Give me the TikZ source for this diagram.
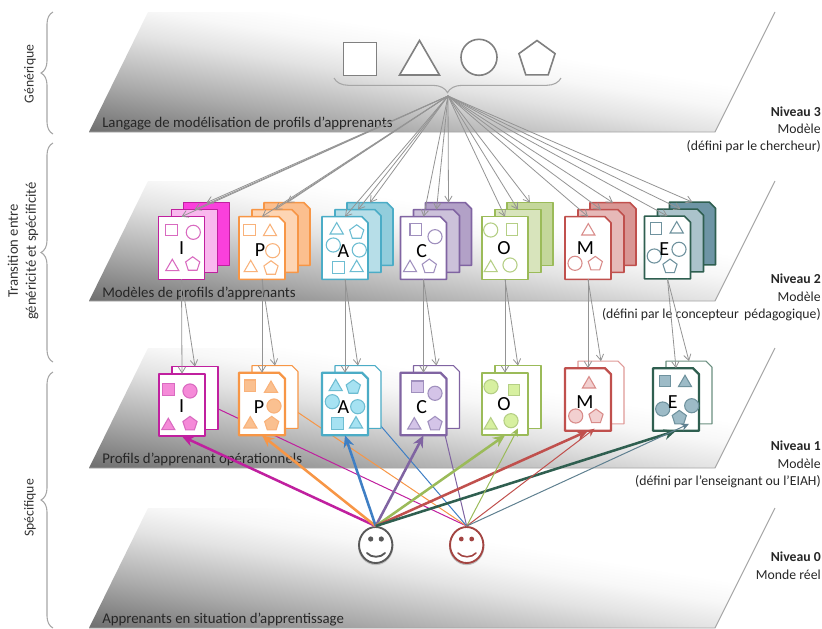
\documentclass[tikz,border=0pt]{standalone}
\usepackage{fontspec}
\setmainfont{Carlito}
\usetikzlibrary{arrows.meta,shapes.geometric,decorations.pathreplacing}

\definecolor{colI}{HTML}{C0209F}\definecolor{midI}{HTML}{F9B8EE}\definecolor{backI}{HTML}{FA40DC}
\definecolor{colP}{HTML}{F79646}\definecolor{midP}{HTML}{FDD5B4}\definecolor{backP}{HTML}{FBBF8F}
\definecolor{colA}{HTML}{4BACC6}\definecolor{midA}{HTML}{B7DEE8}\definecolor{backA}{HTML}{92CDDC}
\definecolor{colC}{HTML}{8064A2}\definecolor{midC}{HTML}{CCC1DA}\definecolor{backC}{HTML}{B2A1C7}
\definecolor{colO}{HTML}{9BBB59}\definecolor{midO}{HTML}{D8E4BC}\definecolor{backO}{HTML}{C4D79B}
\definecolor{colM}{HTML}{C0504D}\definecolor{midM}{HTML}{E6B9B8}\definecolor{backM}{HTML}{D99694}
\definecolor{colE}{HTML}{2F5F50}\definecolor{midE}{HTML}{ABC3CB}\definecolor{backE}{HTML}{6E95A5}
% shapes of the profiles: outline, and fill on level 1
\definecolor{lineI}{HTML}{D96AC0}\definecolor{fillI}{HTML}{F58AD8}
\definecolor{lineP}{HTML}{F9B27A}\definecolor{fillP}{HTML}{FAC090}
\definecolor{lineA}{HTML}{6DBDD2}\definecolor{fillA}{HTML}{A6E2F2}
\definecolor{lineC}{HTML}{A090BE}\definecolor{fillC}{HTML}{D4C4E8}
\definecolor{lineO}{HTML}{B5CF85}\definecolor{fillO}{HTML}{D7F0A0}
\definecolor{lineM}{HTML}{D98C8A}\definecolor{fillM}{HTML}{F2D0D0}
\definecolor{lineE}{HTML}{6F929E}\definecolor{fillE}{HTML}{9DBBC7}
\definecolor{backlineM}{HTML}{E09A98}\definecolor{backlineE}{HTML}{6A8F80}
\definecolor{arrowA}{HTML}{3F7FC4}\definecolor{thinE}{HTML}{5F8090}
\colorlet{arrowI}{colI}\colorlet{arrowP}{colP}\colorlet{arrowC}{colC}
\colorlet{arrowO}{colO}\colorlet{arrowM}{colM}\colorlet{arrowE}{colE}

\pgfdeclareverticalshading{planegrad}{100bp}{%
  color(0bp)=(black!60); color(41.7bp)=(black!57); color(45.4bp)=(black!33);
  color(49.1bp)=(black!11); color(51bp)=(black!3); color(52.6bp)=(white); color(100bp)=(white)}

\tikzset{
  plane/.style={shading=planegrad,shading angle=-9.5},
  planeedge/.style={draw=black!35,line width=.7pt},
  pagebox/.style={rectangle,minimum width=34.5pt,minimum height=47pt,inner sep=0pt,outer sep=0pt},
  shsq/.style={rectangle,minimum size=8.6pt,inner sep=0pt},
  shtri/.style={regular polygon,regular polygon sides=3,minimum size=11.4pt,inner sep=0pt,yshift=-1.4pt},
  shcir/.style={circle,minimum size=10.6pt,inner sep=0pt},
  shpen/.style={regular polygon,regular polygon sides=5,minimum size=11.2pt,inner sep=0pt,yshift=-.4pt},
  letter/.style={font=\fontsize{15}{15}\selectfont,inner sep=0pt},
  planelabel/.style={anchor=west,inner sep=0pt,text=black!85,font=\fontsize{11.1}{12}\selectfont},
  levellabel/.style={anchor=east,inner sep=0pt,text=black!85,font=\fontsize{10.3}{12}\selectfont},
  sidelabel/.style={rotate=90,align=center,inner sep=0pt,text=black!80,font=\fontsize{10.3}{13.5}\selectfont},
  sidebrace/.style={draw=black!35,line width=.8pt,decorate,decoration={brace,mirror,amplitude=9pt}},
  bigshape/.style={draw=black!50,fill=white,line width=1.2pt,inner sep=0pt},
  modelarrow/.style={draw=black!42,line width=.6pt,-{Straight Barb[length=4.5pt,width=5.5pt]}},
  thickarrow/.style={line width=1.9pt,-{Stealth[length=9pt,width=8pt,inset=3pt]}},
  thinarrow/.style={line width=.75pt,-{Stealth[length=6pt,width=5.5pt,inset=2pt]}},
  smiley/.style={ellipse,minimum width=25pt,minimum height=27pt,inner sep=0pt,fill=white,line width=1.4pt,
    preaction={draw=black!25,line width=1.6pt,transform canvas={yshift=-.8pt}}},
}

% #1 name, #2 centre, #3 cut of the corner, #4 look
\newcommand{\profilepage}[4]{%
  \node[pagebox] (#1) at (#2) {};
  \draw[line join=round,#4] (#1.north west) -- ([xshift=-#3]#1.north east) -- ([yshift=-#3]#1.north east)
    -- (#1.south east) -- (#1.south west) -- cycle;}
% #1 name prefix, #2 outline, #3 fill, #4 list shape/x/y
\newcommand{\shapeset}[4]{%
  \foreach \k/\sx/\sy [count=\n] in {#4}{\node[\k,draw=#2,fill=#3,line width=.8pt] (#1s\n) at (\sx,\sy) {};}}

\begin{document}
\begin{tikzpicture}[x=.75pt,y=-.75pt]
  \useasboundingbox (0,0) rectangle (822,629);
  % the four levels
  \foreach \t in {12,181,348,508}{
    \begin{scope}
      \clip (148,\t) -- (775,\t) -- (715,\t+120) -- (89,\t+120) -- cycle;
      \shade[plane] (82,\t-290) rectangle (782,\t+410);
    \end{scope}
    \draw[planeedge] (775,\t) -- (715,\t+120) -- (89,\t+120);
  }
  \node[planelabel] (lab3) at (102,124) {Langage de modélisation de profils d’apprenants};
  \node[planelabel] (lab2) at (102,293) {Modèles de profils d’apprenants};
  \node[planelabel] (lab1) at (102,459) {Profils d’apprenant opérationnels};
  \node[planelabel] (lab0) at (102,620) {Apprenants en situation d’apprentissage};

  \node[levellabel] (niv3) at (821,112) {\textbf{Niveau 3}};
  \node[levellabel] (mod3) at (821,129) {Modèle};
  \node[levellabel] (def3) at (821,147) {(défini par le chercheur)};
  \node[levellabel] (niv2) at (821,279) {\textbf{Niveau 2}};
  \node[levellabel] (mod2) at (821,297) {Modèle};
  \node[levellabel] (def2) at (821,315) {(défini par le concepteur\, pédagogique)};
  \node[levellabel] (niv1) at (821,446) {\textbf{Niveau 1}};
  \node[levellabel] (mod1) at (821,464) {Modèle};
  \node[levellabel] (def1) at (821,482) {(défini par l’enseignant ou l’EIAH)};
  \node[levellabel] (niv0) at (821,557) {\textbf{Niveau 0}};
  \node[levellabel] (mon0) at (821,575) {Monde réel};

  \draw[sidebrace] (53,12) -- (53,134);
  \draw[sidebrace] (53,143) -- (53,362);
  \draw[sidebrace] (53,372) -- (53,628);
  \node[sidelabel] (gen) at (30,74) {Générique};
  \node[sidelabel,font=\fontsize{11}{13.5}\selectfont] (tra) at (23,251) {Transition entre\\généricité et spécificité};
  \node[sidelabel] (spe) at (30,508) {Spécifique};

  % level 3
  \node[bigshape,rectangle,minimum size=24.5pt] (bigsq) at (360,59) {};
  \node[bigshape,regular polygon,regular polygon sides=3,minimum size=34.6pt] (bigtri) at (419.5,63.5) {};
  \node[bigshape,circle,minimum size=27pt] (bigcir) at (479,57.3) {};
  \node[bigshape,regular polygon,regular polygon sides=5,minimum size=28.5pt] (bigpen) at (537,59.5) {};
  \draw[draw=black!35,line width=.8pt,decorate,decoration={brace,mirror,amplitude=11pt}] (334,78) -- (561,78);
  \coordinate (apex) at (448,96);

  % the two learners
  \node[smiley,draw=black!65] (face1) at (375.7,545) {};
  \fill[black!65] (370.7,539) circle (2.6) (381.3,539) circle (2.6);
  \draw[black!65,line width=1.4pt,line cap=round] (367,553) .. controls (371,558) and (381,558) .. (385,553);
  \node[smiley,draw=colM!85!black] (face2) at (466.7,545) {};
  \fill[colM!85!black] (461.3,539) circle (2.4) (471.7,539) circle (2.4);
  \draw[colM!85!black,line width=1.2pt,line cap=round] (458,553) .. controls (462,558) and (472,558) .. (476,553);

  % level 2: stacks of three pages
  \foreach \nm/\cx/\cy/\cut in {I/181.5/248/0pt,P/262/248/4.5pt,A/345/248/4.5pt,C/423.5/248/4.5pt,O/505/248/0pt,M/588/248/4.5pt,E/667.5/247.5/4.5pt}{
    \profilepage{\nm2c}{\cx+25,\cy-14}{\cut}{draw=col\nm,fill=back\nm,line width=1.2pt}
    \profilepage{\nm2b}{\cx+13,\cy-7}{\cut}{draw=col\nm,fill=mid\nm,line width=1.2pt}
    \profilepage{\nm2a}{\cx,\cy}{\cut}{draw=col\nm,fill=white,line width=1.2pt}
  }
  \shapeset{I2}{lineI}{white}{shsq/171.3/230,shcir/193.3/232.3,shtri/172.3/265,shpen/192.7/263.7}
  \shapeset{P2}{lineP}{white}{shsq/249.3/230,shtri/270/230,shcir/272.7/250.7,shtri/250.7/266,shpen/271/267.7}
  \shapeset{A2}{lineA}{white}{shtri/336.7/228.3,shpen/356.7/231.7,shcir/333.3/245,shcir/359.3/250,shsq/338.3/267.3,shtri/356.7/266}
  \shapeset{C2}{lineC}{white}{shsq/415.7/229.3,shcir/435/236.7,shtri/410/266,shpen/429.3/266}
  \shapeset{O2}{lineO}{white}{shcir/490.7/230,shsq/512/229.3,shtri/490.7/266,shcir/510/265}
  \shapeset{M2}{lineM}{white}{shtri/588.3/229.3,shcir/575/263.3,shpen/595.3/263.3}
  \shapeset{E2}{lineE}{white}{shsq/656/228.3,shtri/676.7/227.3,shcir/679/249.3,shcir/654.3/256,shpen/670/266}
  \foreach \nm/\cx/\cy in {I/181.7/248,P/260/250,A/343.3/251,C/421.7/250.7,O/504/247.7,M/585.3/248.3,E/664.3/249}
    \node[letter] (\nm2t) at (\cx,\cy) {\nm};

  \foreach \nm in {I,P,A,C,O,M,E}
    \foreach \pg in {a,b,c}
      \draw[modelarrow] (apex) -- (\nm2\pg.north);

  % these pass behind the operational profiles
  \foreach \nm/\bx/\by in {I/195/398,P/275/397,A/356/397,C/436/397}{
    \coordinate (hide\nm) at (\bx,\by);
    \draw[thinarrow,draw=arrow\nm] (face2.north) -- (hide\nm);
  }

  % level 1: two pages
  \foreach \nm/\cx/\cy/\cut/\bl in {I/182/405/0pt/colI,P/262/404/4.5pt/colP,A/345/404/4.5pt/colA,C/423.5/404/4.5pt/colC,O/505/404/0pt/colO,M/588/399.5/4.5pt/backlineM,E/676/399.5/4.5pt/backlineE}{
    \profilepage{\nm1b}{\cx+13,\cy-7}{\cut}{draw=\bl,fill=white,line width=.8pt}
    \profilepage{\nm1a}{\cx,\cy}{\cut}{draw=col\nm,fill=white,line width=1.7pt}
  }
  \shapeset{I1}{lineI}{fillI}{shsq/168.3/389.3,shcir/190/391,shtri/168.3/424,shpen/190/423.3}
  \shapeset{P1}{lineP}{fillP}{shsq/250/385.7,shtri/271/386.7,shcir/274/406,shtri/250.3/422.3,shpen/271.7/423.3}
  \shapeset{A1}{lineA}{fillA}{shtri/335.7/385,shpen/353.3/386.7,shcir/332.3/401.7,shcir/357.7/406.7,shsq/337.3/423.3,shtri/356/422.3}
  \shapeset{C1}{lineC}{fillC}{shsq/417.3/386.7,shcir/435/393.3,shtri/414.3/423.3,shpen/435/423.3}
  \shapeset{O1}{lineO}{fillO}{shcir/491/386.7,shsq/514/390,shtri/490.7/423.3,shcir/511/420.7}
  \shapeset{M1}{lineM}{fillM}{shtri/589/382.3,shcir/575.7/416,shpen/596/416}
  \shapeset{E1}{lineE}{fillE}{shsq/665/381,shtri/685/381,shcir/691.7/405.7,shcir/662.7/409,shpen/679.3/417.3}
  \foreach \nm/\cx/\cy in {I/181.7/405.7,P/259/407.3,A/343.3/407.3,C/421.7/406.7,O/504/404.3,M/585/402.3,E/672.7/402.3}
    \node[letter] (\nm1t) at (\cx,\cy) {\nm};

  \foreach \nm in {I,P,A,C,O,M,E}{
    \draw[modelarrow] (\nm2a.south) -- (\nm1a.north);
    \draw[modelarrow] (\nm2a.south) -- (\nm1b.north);
    \draw[thickarrow,draw=arrow\nm,fill=arrow\nm] (face1.north) -- (\nm1a.south);
  }
  \draw[thinarrow,draw=arrowO] (face2.north) -- (O1b.south);
  \draw[thinarrow,draw=arrowM,shorten >=6pt] (face2.north) -- (M1b.south);
  \draw[thinarrow,draw=thinE] (face2.north) -- (E1b.south);
\end{tikzpicture}
\end{document}
